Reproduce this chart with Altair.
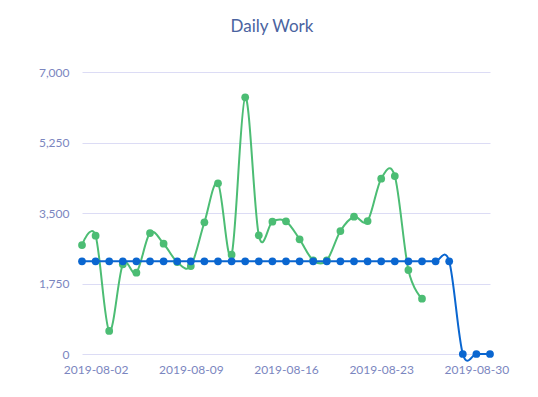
import altair as alt
import pandas as pd

green_dates = pd.date_range("2019-08-01", "2019-08-26", freq="D").strftime("%Y-%m-%d").tolist()
green_vals = [2705, 2936, 571, 2226, 2018, 3003, 2738, 2283, 2184, 3269, 4237, 2465, 6371,
              2945, 3284, 3293, 2847, 2325, 2325, 3053, 3408, 3301, 4351, 4418, 2085, 1373]

blue_dates = pd.date_range("2019-08-01", "2019-08-31", freq="D").strftime("%Y-%m-%d").tolist()
blue_vals = [2300] * 28 + [0, 0, 0]

x_ticks = ["2019-08-02", "2019-08-09", "2019-08-16", "2019-08-23", "2019-08-30"]
y_ticks = [0, 1750, 3500, 5250, 7000]

df = pd.concat([
    pd.DataFrame({"date": green_dates, "value": green_vals, "series": "actual"}),
    pd.DataFrame({"date": blue_dates, "value": blue_vals, "series": "planned"}),
])

tick_vals = [alt.DateTime(year=int(d[:4]), month=int(d[5:7]), date=int(d[8:]), utc=True) for d in x_ticks]

x = alt.X("date:T", title=None,
          scale=alt.Scale(type="utc", domain=[alt.DateTime(year=2019, month=8, date=1, utc=True),
                                              alt.DateTime(year=2019, month=8, date=31, utc=True)], nice=False),
          axis=alt.Axis(values=tick_vals, format="%Y-%m-%d", labelColor="#7b86c0", labelFontSize=12,
                        labelFont="Lato", tickSize=0, domain=False, grid=False, labelPadding=10))
y = alt.Y("value:Q", title=None,
          scale=alt.Scale(domain=[0, 7000], nice=False),
          axis=alt.Axis(values=y_ticks, format=",.0f", labelColor="#7b86c0", labelFontSize=12,
                        labelFont="Lato", tickSize=0, domain=False, gridColor="#dcdcf5",
                        labelPadding=13))

color = alt.Color("series:N", legend=None,
                  scale=alt.Scale(domain=["actual", "planned"], range=["#4cbd74", "#0a66d0"]))

lines = alt.Chart(df).mark_line(interpolate="cardinal", strokeWidth=2).encode(
    x=x, y=y, color=color, detail="series:N")
points = alt.Chart(df).mark_point(filled=True, size=60, opacity=1).encode(
    x=x, y=y, color=color)

chart = (lines + points).properties(
    width=408, height=282,
    autosize=alt.AutoSizeParams(type="none"),
    padding={"left": 74, "top": 64, "right": 40, "bottom": 40},
    title=alt.Title("Daily Work", fontSize=17, font="Lato", fontWeight="normal",
                    color="#4a63a0", offset=30, anchor="middle", dx=-14),
).configure_view(stroke=None)

chart.save("out.html", embed_options={"renderer": "svg", "actions": False})
